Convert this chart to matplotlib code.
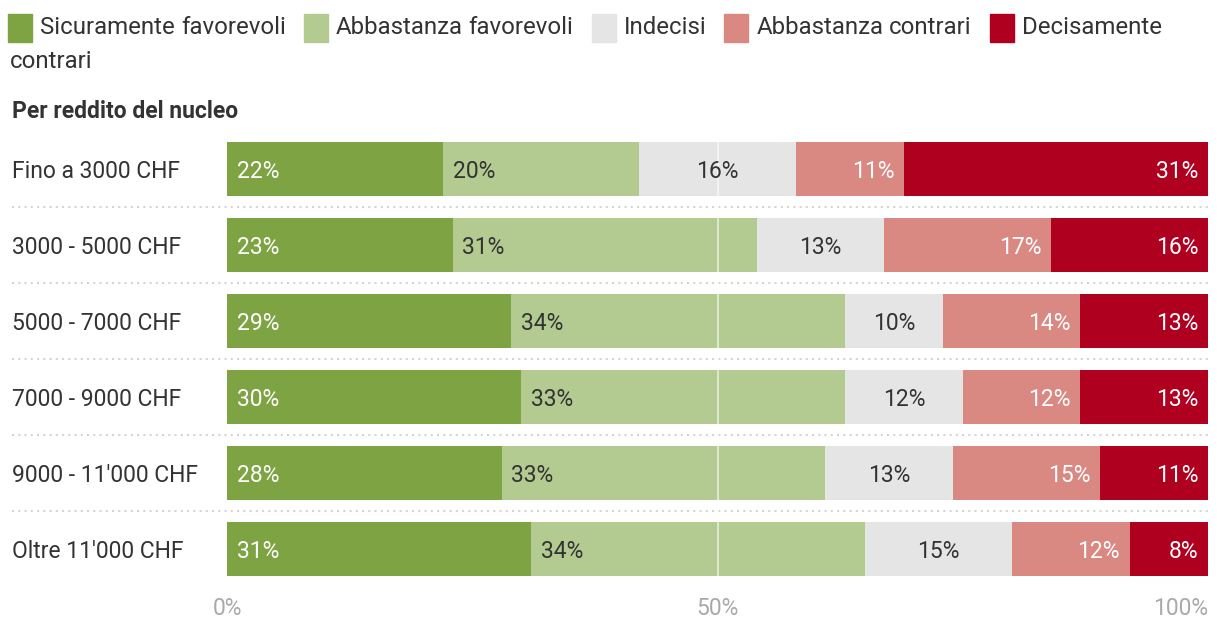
import matplotlib
matplotlib.use("Agg")
import matplotlib.pyplot as plt
from matplotlib.patches import Rectangle
import numpy as np

plt.rcParams['font.family'] = ['Roboto', 'DejaVu Sans']

categories = ["Fino a 3000 CHF", "3000 - 5000 CHF", "5000 - 7000 CHF",
              "7000 - 9000 CHF", "9000 - 11'000 CHF", "Oltre 11'000 CHF"]
series_names = ["Sicuramente favorevoli", "Abbastanza favorevoli", "Indecisi",
                "Abbastanza contrari", "Decisamente contrari"]
sicuramente_fav = [22, 23, 29, 30, 28, 31]
abbastanza_fav = [20, 31, 34, 33, 33, 34]
indecisi = [16, 13, 10, 12, 13, 15]
abbastanza_con = [11, 17, 14, 12, 15, 12]
decisamente_con = [31, 16, 13, 13, 11, 8]
tick_values = [0, 50, 100]
tick_labels = ["0%", "50%", "100%"]
subtitle = "Per reddito del nucleo"

series = [sicuramente_fav, abbastanza_fav, indecisi, abbastanza_con, decisamente_con]
colors = ["#7ea342", "#b3ca91", "#e5e5e5", "#da8882", "#b00020"]
text_colors = ["white", "#333333", "#333333", "white", "white"]
aligns = ["left", "left", "center", "right", "right"]

W, H = 1220, 626
fig = plt.figure(figsize=(W / 100, H / 100), dpi=100)
ax = fig.add_axes([227 / W, 39 / H, 981 / W, 456 / H])

y = np.arange(len(categories))
left = np.zeros(len(categories))
fs = 16.5
leg_fs = 17.3
for vals, col, tc, al in zip(series, colors, text_colors, aligns):
    vals = np.array(vals, dtype=float)
    ax.barh(y, vals, left=left, height=54 / 76, color=col, edgecolor='none', zorder=2)
    for yi, l, v in zip(y, left, vals):
        if al == "left":
            x, ha = l + 1.0, 'left'
        elif al == "center":
            x, ha = l + v / 2, 'center'
        else:
            x, ha = l + v - 1.0, 'right'
        ax.text(x, yi + 0.03, f"{v:.0f}%", ha=ha, va='center', color=tc, fontsize=fs, zorder=4)
    left += vals

ax.set_xlim(0, 100)
ax.set_ylim(len(categories) - 0.5, -0.5)
ax.axvline(50, color='white', alpha=0.55, lw=1.5, zorder=3)

# dotted separators between rows
for k in range(len(categories) - 1):
    ax.plot([-215 / 981 * 100, 100], [k + 0.5, k + 0.5], ls=(0, (1, 2)),
            color='#d4d4d4', lw=1.5, clip_on=False, zorder=1)

for s in ax.spines.values():
    s.set_visible(False)
ax.set_yticks([])
ax.set_xticks(tick_values)
ax.set_xticklabels(tick_labels, color='#aaaaaa', fontsize=fs)
ax.tick_params(axis='x', length=0, pad=7)
ax.get_xticklabels()[-1].set_ha('right')

for yi, c in zip(y, categories):
    ax.text(-215 / 981 * 100, yi + 0.03, c, ha='left', va='center', color='#333333',
            fontsize=fs, clip_on=False)

fig.text(12 / W, 1 - 112 / H, subtitle, ha='left', va='center', fontsize=fs,
         fontweight='bold', color='#333333')

# legend with word wrapping
fig.canvas.draw()
renderer = fig.canvas.get_renderer()
sp = fig.text(0, 0, "a a", fontsize=leg_fs)
one = fig.text(0, 0, "a", fontsize=leg_fs)
space_w = sp.get_window_extent(renderer).width - 2 * one.get_window_extent(renderer).width
sp.remove()
one.remove()

xpos = 8
line_y = [27, 61]
line = 0
for name, col in zip(series_names, colors):
    fig.patches.append(Rectangle((xpos / W, 1 - 42 / H), 24 / W, 28 / H,
                                 transform=fig.transFigure, color=col, figure=fig))
    xpos += 24 + 8
    words = name.split(" ")
    for i, w in enumerate(words):
        t = fig.text(xpos / W, 1 - line_y[line] / H, w, ha='left', va='center',
                     fontsize=leg_fs, color='#333333')
        bb = t.get_window_extent(renderer)
        if bb.x1 > 1208 and line == 0:
            line = 1
            xpos = 10
            t.set_position((xpos / W, 1 - line_y[line] / H))
            bb = t.get_window_extent(renderer)
        xpos += bb.width + (space_w if i < len(words) - 1 else 0)
    xpos += 18

fig.savefig("out.png", dpi=100)
